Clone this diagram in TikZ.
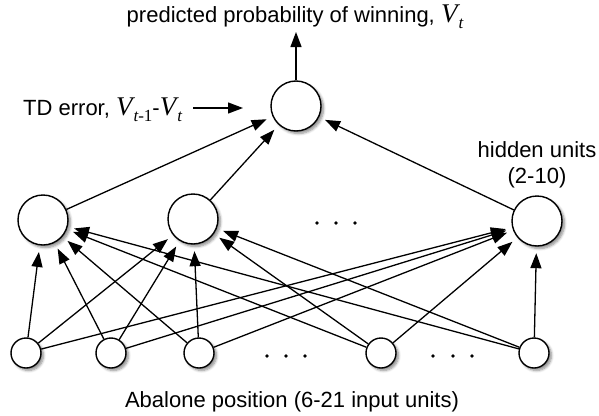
\documentclass[tikz,border=0pt]{standalone}
\usepackage{fontspec}
\setmainfont{Liberation Sans}
\newfontfamily\tms{Liberation Serif}
\usetikzlibrary{arrows.meta,shadows.blur}
\tikzset{
  unit/.style={circle, draw=black, line width=1.4pt, fill=white, inner sep=0pt,
    blur shadow={shadow xshift=2.5pt, shadow yshift=-2.5pt, shadow blur steps=6, shadow blur radius=2.5pt, shadow opacity=45}},
  bigunit/.style={unit, minimum size=50pt},
  smallunit/.style={unit, minimum size=30pt},
  conn/.style={line width=1.3pt, -{Triangle[length=15pt,width=11pt]}, shorten >=6.5pt},
  lbl/.style={font=\fontsize{22pt}{26pt}\selectfont, inner sep=0pt},
  dot/.style={circle, fill=black, inner sep=0pt, minimum size=3.8pt}
}
\newcommand{\Vvar}[1]{{\tms\itshape\fontsize{27pt}{27pt}\selectfont V\kern1pt}\raisebox{-6pt}{\tms\fontsize{17pt}{17pt}\selectfont #1}}
\begin{document}
\begin{tikzpicture}[x=1pt,y=-1pt]
\useasboundingbox (0,0) rectangle (599,415);
% units
\node[bigunit] (out) at (296,106) {};
\node[bigunit] (h1) at (43,220) {};
\node[bigunit] (h2) at (193,219) {};
\node[bigunit] (h3) at (537,221) {};
\node[smallunit] (i1) at (26,353) {};
\node[smallunit] (i2) at (111,353) {};
\node[smallunit] (i3) at (199,353) {};
\node[smallunit] (i4) at (381,353) {};
\node[smallunit] (i5) at (534,353) {};
% dots
\node[dot] (hd1) at (317,223) {};
\node[dot] (hd2) at (336,223) {};
\node[dot] (hd3) at (355,223) {};
\node[dot] (id1) at (267,356) {};
\node[dot] (id2) at (286,356) {};
\node[dot] (id3) at (305,356) {};
\node[dot] (id4) at (433,356) {};
\node[dot] (id5) at (453,356) {};
\node[dot] (id6) at (472,356) {};
% labels
\node[lbl, anchor=base] (top) at (295,22) {predicted probability of winning, \Vvar{\itshape t}};
\node[lbl, anchor=base west] (td) at (23,115) {TD error, \Vvar{\itshape t\upshape -1}-\Vvar{\itshape t}};
\node[lbl, anchor=base] (hid1) at (537,157) {hidden units};
\node[lbl, anchor=base] (hid2) at (537,183) {(2-10)};
\node[lbl, anchor=base] (bot) at (292,407) {Abalone position (6-21 input units)};
% connectors
\coordinate (toptip) at (296,32);
\coordinate (tdstart) at (193,108);
\coordinate (tdend) at (243,108);
\draw[conn, shorten >=0pt] (out) -- (toptip);
\draw[conn, shorten >=0pt] (tdstart) -- (tdend);
\foreach \h in {h1,h2,h3} \draw[conn] (\h) -- (out);
\foreach \i in {i1,i2,i3,i4,i5} {
  \foreach \h in {h1,h2,h3} \draw[conn] (\i) -- (\h);
}
\end{tikzpicture}
\end{document}
